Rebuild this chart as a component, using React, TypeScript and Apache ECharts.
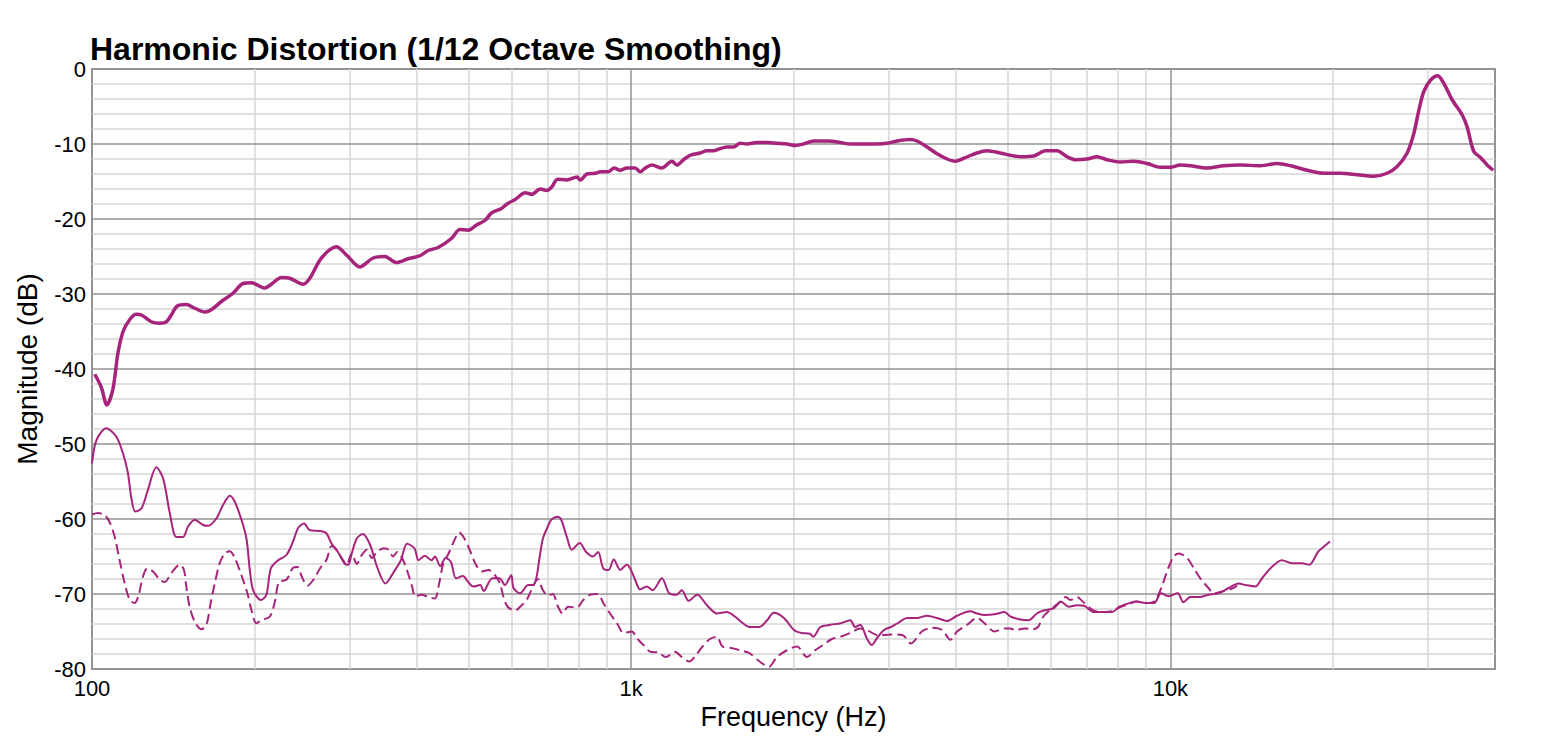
import React, { useEffect, useRef } from "react";
import * as echarts from "echarts";

// [frequency Hz, magnitude dB]
const fundamental: number[][] = [
  [101.2,-40.7],[104,-42.4],[106.6,-44.8],[109.4,-42.6],[111.7,-37.9],[114.2,-35.0],[117.5,-33.4],[120.8,-32.7],[123.5,-32.8],[128.8,-33.7],[133.6,-33.9],[137.4,-33.7],[140.3,-32.8],[143.9,-31.6],[149.6,-31.4],[155.1,-31.9],[161.9,-32.4],[166.4,-32.1],[173.8,-31.0],[182.6,-29.9],[190.6,-28.6],[197.5,-28.5],[209.2,-29.2],[215.1,-28.7],[224.5,-27.8],[232.7,-27.9],[246.3,-28.7],[253.5,-27.9],[266.4,-25.2],[284,-23.7],[296.5,-24.8],[313.8,-26.4],[332.2,-25.2],[349.1,-25.0],[366.9,-25.8],[385.7,-25.3],[405.5,-24.9],[420.2,-24.2],[438.5,-23.8],[464.1,-22.6],[481.1,-21.4],[498.5,-21.5],[516.5,-20.8],[535.3,-20.2],[550.8,-19.2],[574.6,-18.6],[591.3,-17.9],[609.3,-17.4],[636.1,-16.5],[654.6,-16.7],[678.2,-16.0],[697.8,-16.2],[712.9,-15.7],[730.3,-14.7],[760.1,-14.8],[793.3,-14.4],[804.6,-14.8],[827.8,-14.0],[857.7,-13.9],[876.2,-13.7],[907.8,-13.7],[930.1,-13.2],[954.2,-13.5],[981.7,-13.2],[1017,-13.2],[1039,-13.7],[1062,-13.2],[1092,-12.8],[1140,-13.2],[1190,-12.3],[1215,-12.8],[1250,-12.1],[1287,-11.5],[1343,-11.2],[1381,-10.9],[1421,-10.9],[1452,-10.7],[1505,-10.4],[1548,-10.4],[1593,-9.9],[1639,-10.0],[1711,-9.8],[1786,-9.8],[1864,-9.9],[1945,-10.0],[2015,-10.2],[2088,-10.0],[2179,-9.6],[2242,-9.6],[2323,-9.6],[2442,-9.8],[2548,-10.0],[2698,-10.0],[2856,-10.0],[2982,-9.9],[3111,-9.6],[3293,-9.4],[3388,-9.6],[3537,-10.4],[3692,-11.3],[3853,-12.0],[3992,-12.3],[4137,-11.9],[4379,-11.2],[4571,-10.9],[4838,-11.2],[5049,-11.5],[5269,-11.7],[5578,-11.6],[5865,-10.9],[6164,-10.9],[6432,-11.7],[6666,-12.1],[7005,-12.0],[7311,-11.7],[7630,-12.1],[8078,-12.4],[8551,-12.3],[9052,-12.6],[9582,-13.1],[10000,-13.1],[10437,-12.8],[10891,-12.9],[11698,-13.2],[12562,-12.9],[13489,-12.8],[14689,-12.9],[15773,-12.6],[16698,-12.9],[17936,-13.5],[19252,-13.9],[20677,-13.9],[22208,-14.1],[23841,-14.3],[25235,-13.9],[26340,-13.0],[27488,-11.2],[28282,-8.6],[28895,-5.5],[29512,-3.0],[30369,-1.5],[31329,-0.9],[32137,-1.9],[33309,-4.1],[34754,-6.1],[35505,-7.7],[36527,-11.0],[37584,-11.8],[38680,-12.8],[39680,-13.5]
];

const secondHarmonic: number[][] = [
  [100,-52.6],[101.9,-49.5],[106.3,-47.9],[110.9,-49.0],[114.1,-51.2],[116.6,-53.9],[118.3,-57.2],[120.3,-59.0],[123.5,-58.6],[127,-56.1],[131.6,-53.1],[135.5,-54.6],[139.4,-59.2],[143.4,-62.4],[147.5,-62.4],[150.7,-61.0],[155.1,-60.1],[160.7,-60.8],[164.2,-60.9],[170.2,-59.9],[175.1,-58.1],[180.1,-56.9],[184,-57.7],[189.3,-60.1],[193.4,-62.6],[196.2,-66.8],[199,-69.5],[205.6,-70.8],[210.6,-70.1],[214.6,-66.6],[221.4,-65.5],[229.4,-64.8],[236,-63.0],[241.2,-61.2],[247.4,-60.6],[253.5,-61.5],[264.4,-61.6],[272,-61.9],[277.8,-63.2],[285.8,-64.4],[294.7,-66.0],[298.8,-66.1],[303.2,-64.6],[309.8,-62.6],[317.9,-62.0],[328.2,-63.5],[337.9,-66.4],[350.2,-68.6],[363.3,-67.0],[374,-65.5],[383.9,-63.3],[396.3,-63.9],[403.3,-65.5],[414.1,-64.9],[426.2,-65.5],[432.7,-65.0],[442.5,-66.3],[452.6,-65.2],[462.9,-65.7],[473.5,-67.9],[487.6,-67.6],[498.5,-68.4],[509.6,-69.0],[524.9,-68.8],[532.5,-69.6],[552.6,-67.9],[569.7,-67.9],[583.1,-68.8],[599.1,-67.5],[605,-69.2],[622.4,-69.9],[644,-68.8],[657.5,-68.8],[666.8,-67.9],[676.6,-65.0],[686,-62.6],[700.6,-61.0],[710.9,-60.1],[730.6,-59.7],[741.6,-60.1],[759.7,-62.4],[776.1,-64.1],[802.5,-63.2],[825,-64.4],[849.6,-65.0],[868.2,-64.4],[887.6,-66.6],[907.8,-66.8],[928.3,-65.4],[954.1,-66.8],[981.6,-66.1],[995.8,-66.6],[1017,-68.1],[1039,-69.4],[1068,-69.0],[1096,-69.5],[1140,-67.9],[1176,-69.9],[1214,-70.1],[1241,-69.5],[1278,-70.9],[1326,-70.1],[1382,-71.5],[1442,-72.6],[1504,-72.4],[1557,-73.0],[1612,-73.9],[1658,-74.4],[1730,-74.4],[1787,-73.5],[1838,-72.5],[1920,-73.2],[2004,-74.8],[2071,-75.2],[2146,-75.3],[2175,-75.7],[2244,-74.4],[2342,-74.1],[2445,-73.9],[2548,-73.5],[2603,-74.4],[2659,-74.1],[2735,-75.9],[2794,-76.8],[2856,-75.9],[2943,-74.8],[3033,-74.4],[3119,-73.9],[3251,-73.2],[3388,-73.2],[3537,-72.9],[3692,-73.2],[3853,-73.6],[4021,-72.9],[4255,-72.3],[4379,-72.6],[4521,-72.8],[4718,-72.7],[4926,-72.4],[5049,-73.0],[5269,-73.4],[5458,-73.5],[5652,-72.6],[5814,-72.2],[6079,-71.9],[6262,-71.0],[6483,-71.7],[6714,-71.5],[6930,-71.6],[7198,-72.4],[7467,-72.4],[7804,-72.4],[8040,-71.7],[8401,-71.2],[8650,-71.0],[8982,-71.2],[9328,-71.2],[9616,-69.9],[9914,-70.3],[10316,-69.9],[10570,-71.1],[10891,-70.4],[11320,-70.4],[11770,-70.1],[12290,-69.9],[12830,-69.2],[13390,-68.6],[13780,-68.8],[14380,-69.0],[14790,-67.9],[15420,-66.4],[16100,-65.5],[16800,-65.9],[17540,-65.9],[18100,-66.1],[18780,-64.4],[19250,-63.7],[19770,-63.0]
];

const thirdHarmonic: number[][] = [
  [100,-59.4],[102.6,-59.2],[105.6,-59.5],[107.8,-60.4],[110.2,-62.4],[112.5,-65.5],[115,-68.6],[117.5,-70.8],[120,-71.2],[122.1,-70.1],[124.3,-67.7],[126.6,-66.6],[129.8,-67.0],[133.6,-68.1],[136.5,-68.4],[140.3,-67.2],[145.5,-66.1],[148.1,-66.8],[149.6,-69.0],[151.7,-71.7],[155.1,-73.7],[159.5,-74.7],[163,-74.1],[166,-71.2],[168.9,-68.6],[172.5,-65.9],[176.3,-64.6],[180.1,-64.3],[184,-65.2],[189.3,-67.5],[194.2,-69.9],[197.5,-72.1],[201.8,-73.9],[206.3,-73.5],[213.8,-73.0],[218.4,-71.0],[222.2,-68.4],[229.4,-68.1],[236,-66.5],[240.4,-66.4],[245.3,-67.8],[251,-68.9],[258,-68.0],[264.7,-66.6],[272.4,-65.4],[278.2,-63.6],[284.2,-64.1],[290.4,-65.2],[296.5,-66.1],[303.2,-64.6],[309.8,-66.0],[316.4,-64.8],[323.4,-64.1],[330.5,-65.2],[337.9,-64.4],[347.6,-63.9],[355,-64.1],[361.7,-65.0],[368.2,-64.4],[376,-65.2],[384.6,-67.0],[392.3,-69.0],[397.7,-70.3],[408.7,-70.1],[420.2,-70.4],[432.3,-70.6],[440.4,-68.6],[448.3,-65.9],[458.5,-64.6],[468.9,-63.0],[479.6,-61.8],[490.5,-62.6],[501.6,-64.1],[515.3,-66.1],[529,-67.0],[543.6,-66.8],[559,-67.5],[571,-68.6],[579.7,-70.4],[590,-71.7],[609.3,-72.2],[622.4,-71.7],[640,-70.8],[657.5,-69.0],[671,-68.0],[686,-69.5],[700.6,-70.2],[715.6,-70.0],[730.6,-71.6],[746.2,-72.6],[763.7,-71.7],[793,-71.8],[815,-70.8],[838.4,-70.1],[868,-70.0],[887.6,-71.2],[913.8,-72.6],[940.8,-73.9],[968.6,-75.2],[1003,-75.0],[1025,-75.9],[1054,-76.8],[1085,-77.7],[1122,-77.8],[1160,-78.4],[1205,-77.7],[1241,-78.4],[1282,-79.0],[1320,-78.1],[1363,-76.8],[1400,-76.0],[1442,-75.7],[1476,-77.0],[1533,-77.2],[1593,-77.5],[1658,-77.9],[1730,-79.0],[1800,-79.7],[1864,-78.4],[1945,-77.5],[2030,-77.0],[2118,-78.4],[2193,-77.5],[2270,-76.8],[2356,-76.0],[2445,-75.7],[2548,-75.2],[2659,-74.6],[2735,-74.8],[2870,-75.5],[3033,-75.4],[3188,-75.5],[3303,-76.6],[3460,-75.0],[3614,-74.5],[3772,-74.8],[3910,-76.1],[4021,-75.0],[4197,-74.1],[4379,-73.2],[4521,-73.9],[4718,-75.0],[4926,-74.6],[5049,-74.6],[5160,-74.8],[5363,-74.6],[5555,-74.7],[5680,-74.4],[5814,-73.0],[6037,-71.9],[6262,-71.0],[6394,-70.4],[6528,-70.8],[6714,-70.4],[6876,-71.0],[7198,-72.2],[7467,-72.4],[7804,-72.3],[8040,-71.8],[8401,-71.3],[8650,-71.0],[8982,-71.2],[9328,-71.0],[9616,-69.2],[9914,-66.5],[10144,-65.0],[10363,-64.6],[10740,-65.2],[11060,-66.6],[11410,-68.1],[11770,-69.2],[12030,-69.9],[12560,-69.6],[13000,-69.3],[13300,-68.9]
];

// grid lines
const majorFreqs = [1000, 10000];
const minorFreqs = [200, 300, 400, 500, 600, 700, 800, 900, 2000, 3000, 4000, 5000, 6000, 7000, 8000, 9000, 20000, 30000];
const majorDb = [-10, -20, -30, -40, -50, -60, -70];
const minorDb = [-2, -4, -6, -8, -12, -14, -16, -18, -22, -24, -26, -28, -32, -34, -36, -38, -42, -44, -46, -48, -52, -54, -56, -58, -62, -64, -66, -68, -72, -74, -76, -78];

const COLOR = "#A6247B";
const FONT = "'Liberation Sans', Arial, Helvetica, sans-serif";

export default function App() {
  const ref = useRef<HTMLDivElement>(null);
  useEffect(() => {
    if (!ref.current) return;
    const chart = echarts.init(ref.current, undefined, { renderer: "svg" });
    const minorStyle = { color: "#d6d6d6", width: 1.5, type: "solid" };
    const majorStyle = { color: "#939393", width: 1.5, type: "solid" };
    const gridLines = [
      ...minorDb.map((v) => ({ yAxis: v, lineStyle: minorStyle })),
      ...minorFreqs.map((v) => ({ xAxis: v, lineStyle: minorStyle })),
      ...majorDb.map((v) => ({ yAxis: v, lineStyle: majorStyle })),
      ...majorFreqs.map((v) => ({ xAxis: v, lineStyle: majorStyle })),
    ];
    chart.setOption({
      animation: false,
      textStyle: { fontFamily: FONT },
      title: {
        text: "Harmonic Distortion (1/12 Octave Smoothing)",
        left: 90,
        top: 33,
        padding: 0,
        textStyle: { fontSize: 32, fontWeight: "bold", color: "#000", fontFamily: FONT },
      },
      grid: {
        left: 92,
        right: 65,
        top: 69,
        bottom: 77,
        show: true,
        borderColor: "#939393",
        borderWidth: 2,
        backgroundColor: "#fff",
      },
      xAxis: {
        type: "log",
        logBase: 10,
        min: 100,
        max: 40000,
        name: "Frequency (Hz)",
        nameLocation: "middle",
        nameGap: 30,
        nameTextStyle: { fontSize: 27, color: "#000", fontFamily: FONT },
        axisLine: { show: false },
        axisTick: { show: false },
        splitLine: { show: false },
        axisLabel: {
          fontSize: 22,
          color: "#000",
          margin: 8,
          fontFamily: FONT,
          showMaxLabel: false,
          formatter: (v: number) => (v >= 1000 ? v / 1000 + "k" : String(v)),
        },
      },
      yAxis: {
        type: "value",
        min: -80,
        max: 0,
        interval: 10,
        name: "Magnitude (dB)",
        nameLocation: "middle",
        nameGap: 51,
        nameTextStyle: { fontSize: 28, color: "#000", fontFamily: FONT },
        axisLine: { show: false },
        axisTick: { show: false },
        splitLine: { show: false },
        axisLabel: { fontSize: 22, color: "#000", margin: 6, fontFamily: FONT },
      },
      series: [
        {
          type: "line",
          data: [],
          z: 1,
          silent: true,
          markLine: {
            silent: true,
            z: 1,
            symbol: ["none", "none"],
            label: { show: false },
            emphasis: { disabled: true },
            animation: false,
            data: gridLines,
          },
        },
        {
          name: "H3",
          type: "line",
          z: 3,
          data: thirdHarmonic,
          showSymbol: false,
          smooth: 0.3,
          lineStyle: { color: COLOR, width: 2, type: [10, 5] },
        },
        {
          name: "H2",
          type: "line",
          z: 4,
          data: secondHarmonic,
          showSymbol: false,
          smooth: 0.3,
          lineStyle: { color: COLOR, width: 2 },
        },
        {
          name: "Fundamental",
          type: "line",
          z: 5,
          data: fundamental,
          showSymbol: false,
          smooth: 0.3,
          lineStyle: { color: COLOR, width: 3.5 },
        },
      ],
    });
    return () => chart.dispose();
  }, []);
  return (
    <div
      ref={ref}
      style={{ position: "fixed", left: 0, top: 0, width: 1560, height: 746, background: "#fff" }}
    />
  );
}
